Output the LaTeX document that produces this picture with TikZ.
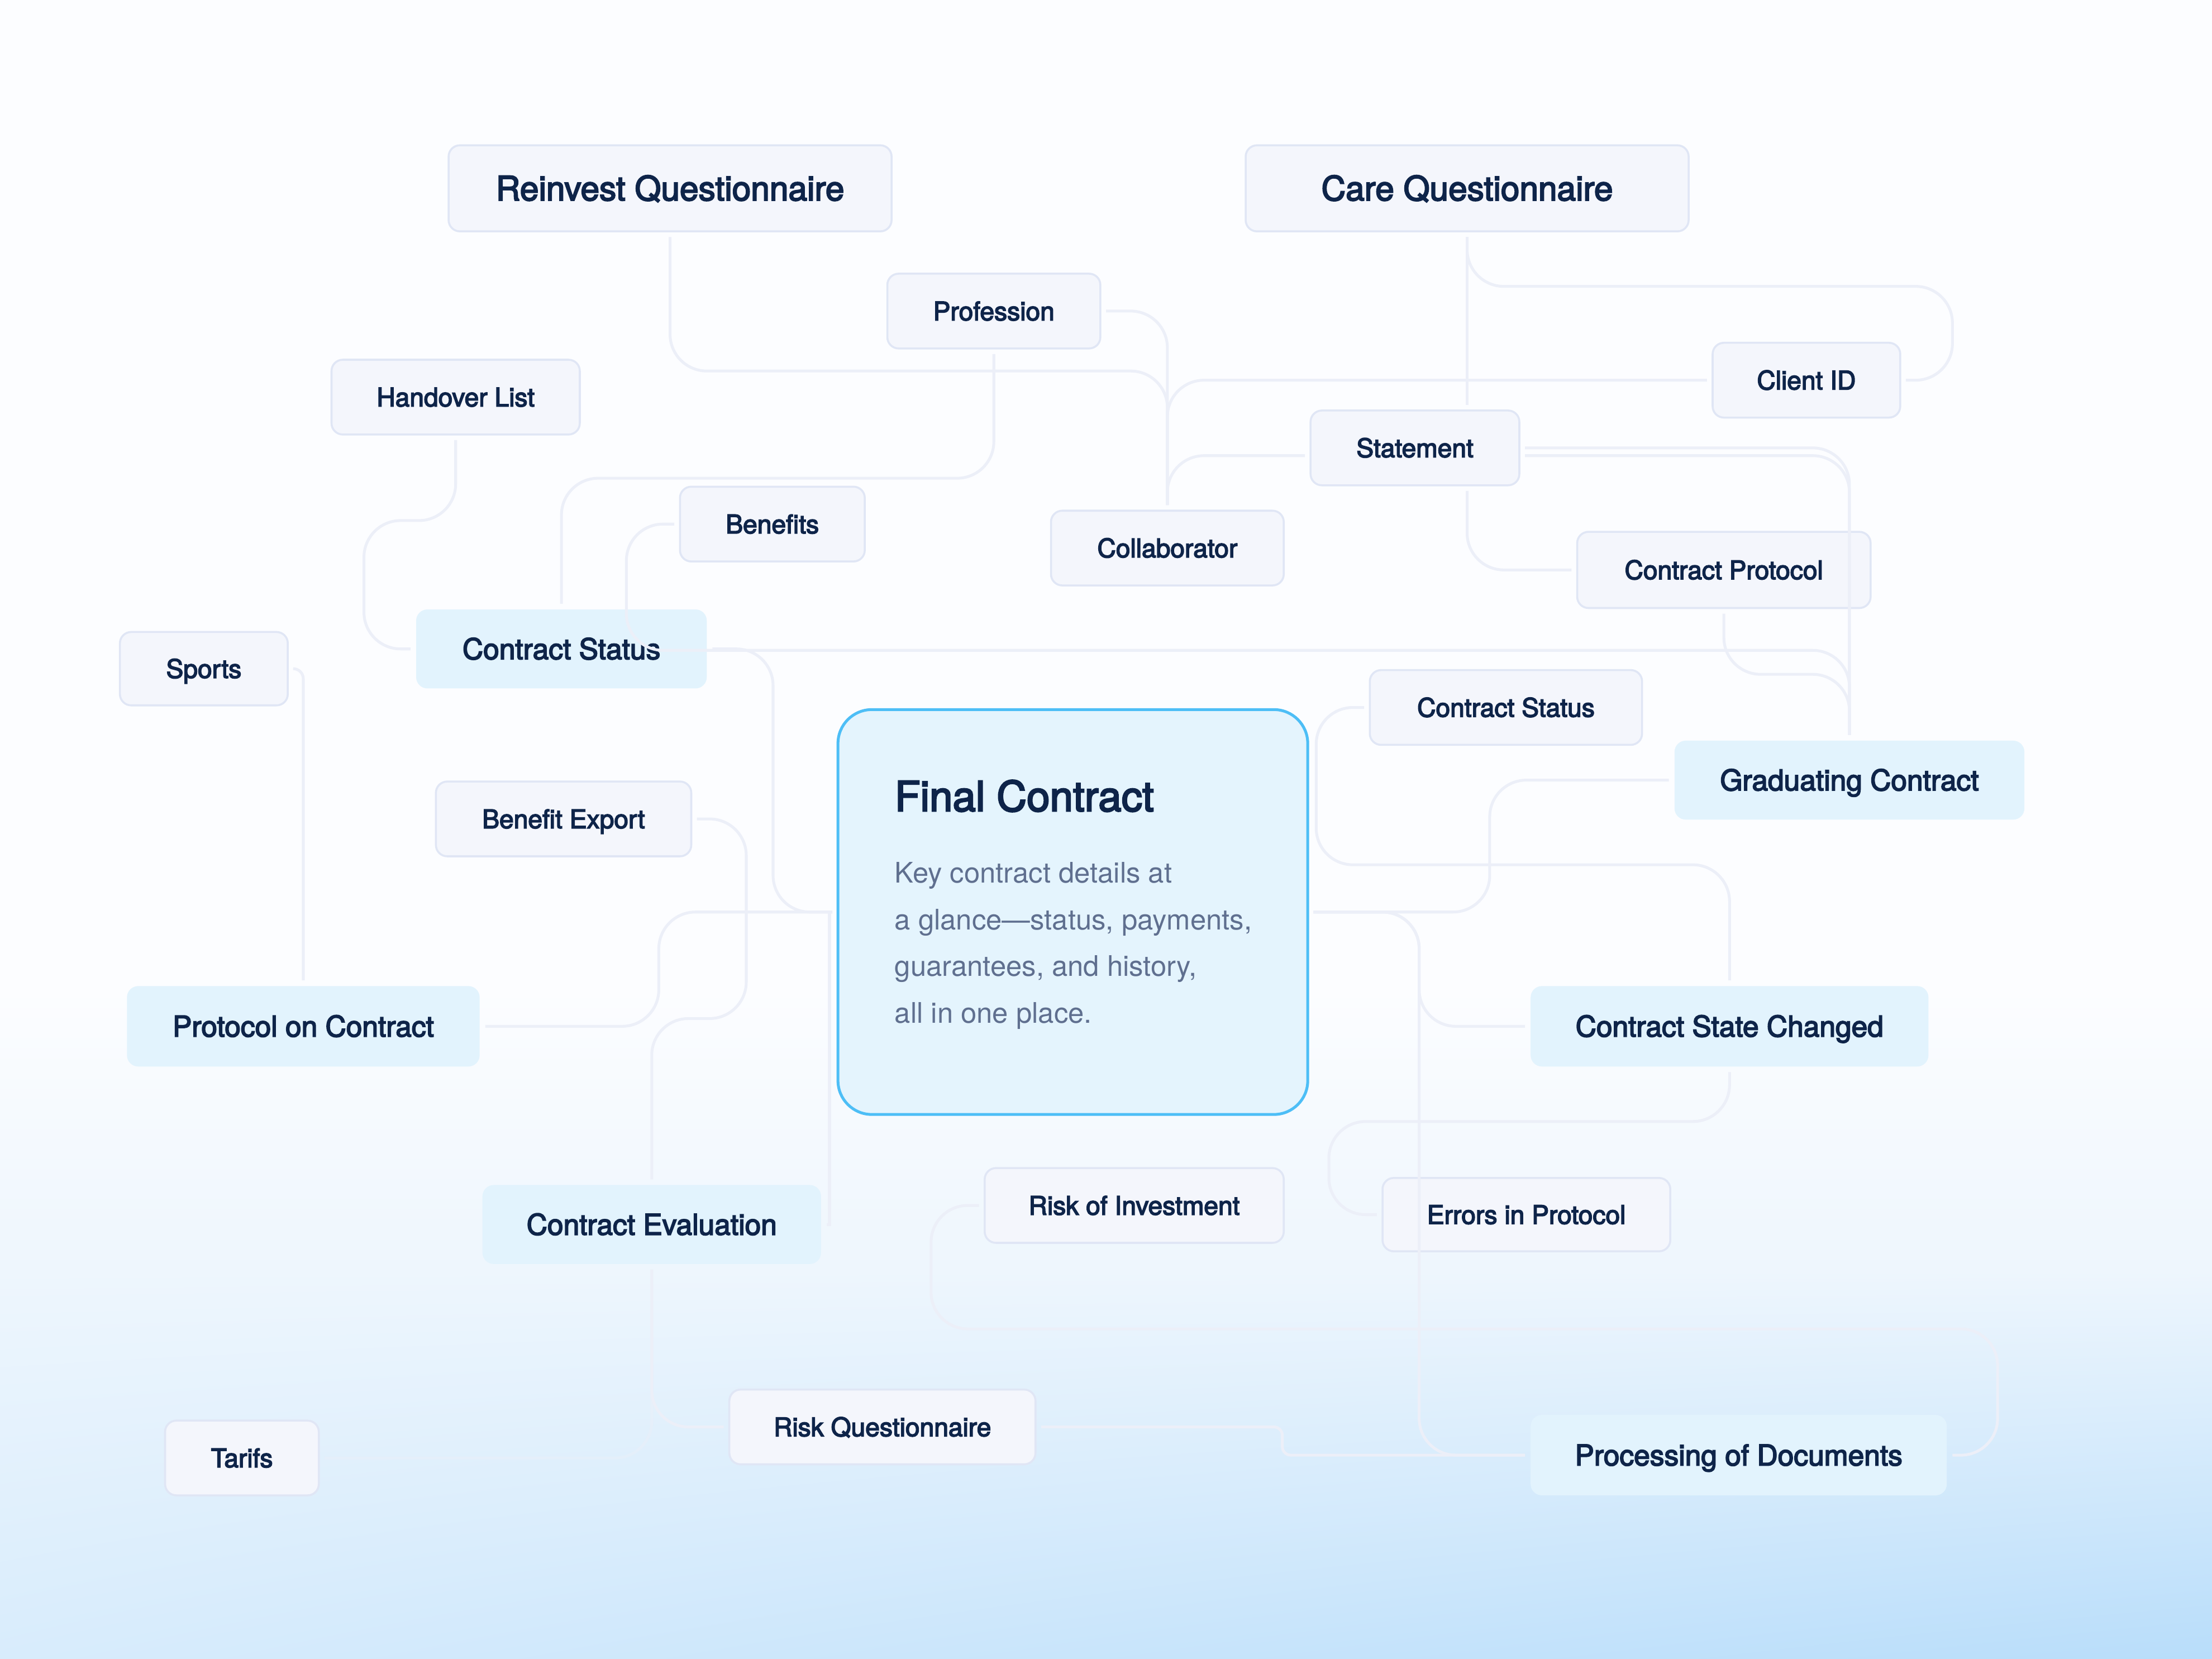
\documentclass[tikz,border=0pt]{standalone}
\usepackage{fontspec}
\setmainfont{TeX Gyre Heros}
\newfontfamily\lblfont{TeX Gyre Heros}[FakeBold=3.5]
\usetikzlibrary{shadings}
\definecolor{bgtop}{HTML}{FCFDFF}
\definecolor{bgmid}{HTML}{EEF6FD}
\definecolor{bgbl}{HTML}{D8ECFC}
\definecolor{bgbr}{HTML}{B8DDFA}
\definecolor{gfill}{HTML}{F4F6FC}
\definecolor{gline}{HTML}{E0E6F5}
\definecolor{bfill}{HTML}{E2F3FD}
\definecolor{ffill}{HTML}{E4F4FD}
\definecolor{fline}{HTML}{4DBEF6}
\definecolor{ink}{HTML}{0E2449}
\definecolor{bodyc}{HTML}{5F6F8F}
\definecolor{connc}{HTML}{ECEFF8}
\newcommand{\pxu}{0.025cm}
\begin{document}
\begin{tikzpicture}[x=0.025cm,y=-0.025cm,
  gbox/.style={draw=gline, fill=gfill, line width=0.035cm, rounded corners=0.2cm, inner sep=0pt, outer sep=0.1cm, text=ink, font=\lblfont\fontsize{13}{15}\selectfont, text height=9.4pt, text depth=0pt},
  bbox/.style={fill=bfill, rounded corners=0.2cm, inner sep=0pt, outer sep=0.1cm, text=ink, font=\lblfont\fontsize{14.5}{17}\selectfont, text height=10.4pt, text depth=0pt},
  big/.style={font=\lblfont\fontsize{17}{20}\selectfont, text height=12.2pt},
  fbox/.style={draw=fline, fill=ffill, line width=0.05cm, rounded corners=0.6cm, inner sep=0pt, outer sep=0.1cm},
  sz/.style 2 args={minimum width=#1*\pxu, minimum height=#2*\pxu},
  link/.style={draw=connc, line width=0.05cm, rounded corners=0.65cm},
]
\useasboundingbox (0,0) rectangle (1568,1176);
% background
\fill[bgtop] (0,0) rectangle (1568,1176);
\shade[top color=bgtop, bottom color=bgmid] (0,700) rectangle (1568,900);
\shade[upper left=bgmid, upper right=bgmid, lower left=bgbl, lower right=bgbr] (0,900) rectangle (1568,1176);

% nodes
\node[gbox,big,sz={314}{61}] (reinvest) at (475,133.5) {Reinvest Questionnaire};
\node[gbox,big,sz={314}{61}] (care) at (1040,133.5) {Care Questionnaire};
\node[gbox,sz={151}{53}] (prof) at (704.5,220.5) {Profession};
\node[gbox,sz={176}{53}] (handover) at (323,281.5) {Handover List};
\node[gbox,sz={133}{53}] (client) at (1280.5,269.5) {Client ID};
\node[gbox,sz={148}{53}] (stmt) at (1003,317.5) {Statement};
\node[gbox,sz={131}{53}] (benefits) at (547.5,371.5) {Benefits};
\node[gbox,sz={165}{53}] (collab) at (827.5,388.5) {Collaborator};
\node[gbox,sz={208}{54}] (cprot) at (1222,404) {Contract Protocol};
\node[bbox,sz={206}{56}] (cstatL) at (398,460) {Contract Status};
\node[gbox,sz={119}{52}] (sports) at (144.5,474) {Sports};
\node[gbox,sz={193}{53}] (cstatR) at (1067.5,501.5) {Contract Status};
\node[bbox,sz={248}{56}] (grad) at (1311,553) {Graduating Contract};
\node[fbox,sz={333}{287}] (final) at (760.5,646.5) {};
\node[gbox,sz={181}{53}] (bexport) at (399.5,580.5) {Benefit Export};
\node[bbox,sz={250}{57}] (protoc) at (215,727.5) {Protocol on Contract};
\node[bbox,sz={282}{57}] (csc) at (1226,727.5) {Contract State Changed};
\node[bbox,sz={240}{56}] (ceval) at (462,868) {Contract Evaluation};
\node[gbox,sz={212}{53}] (riskinv) at (804,854.5) {Risk of Investment};
\node[gbox,sz={204}{52}] (errors) at (1082,861) {Errors in Protocol};
\node[gbox,sz={217}{53}] (riskq) at (625.5,1011.5) {Risk Questionnaire};
\node[gbox,sz={109}{53}] (tarifs) at (171.5,1033.5) {Tarifs};
\node[bbox,sz={295}{57}] (procdoc) at (1232.5,1031.5) {Processing of Documents};

% final contract content
\node[anchor=base west, inner sep=0pt, text=ink, font=\lblfont\fontsize{21}{24}\selectfont] (ftitle) at (634,575) {Final Contract};
\begin{scope}[every node/.style={anchor=base west, inner sep=0pt, text=bodyc, font=\fontsize{14.3}{17}\selectfont}]
\node (fb1) at (634,626) {Key contract details at};
\node (fb2) at (634,659) {a glance—status, payments,};
\node (fb3) at (634,692) {guarantees, and history,};
\node (fb4) at (634,725) {all in one place.};
\end{scope}

% connectors
\draw[link] (reinvest.south) -- (475,263) -- (827.5,263) -- (collab.north);
\draw[link] (prof.east) -- (827.5,220.5) -- (collab.north);
\draw[link] (client.west) -- (827.5,269.5) -- (collab.north);
\draw[link] (stmt.west |- 0,323) -- (827.5,323) -- (collab.north);
\draw[link] (care.south) -- (stmt.north -| care.south);
\draw[link] (care.south) -- (1040,203) -- (1384,203) -- (1384,269.5) -- (client.east);
\draw[link] (stmt.south -| care.south) -- (1040,404) -- (cprot.west);
\draw[link] (stmt.east) -- (grad.north |- stmt.east) -- (grad.north);
\draw[link] (stmt.east |- 0,323) -- (grad.north |- 0,323) -- (grad.north);
\draw[link] (cprot.south) -- (1222,478) -- (1311,478) -- (grad.north);
\draw[link] (benefits.west) -- (444,371.5) -- (444,461) -- (1311,461) -- (grad.north);
\draw[link] (cstatL.east) -- (548,460) -- (548,646.5) -- (final.west);
\draw[link] (prof.south) -- (704.5,339) -- (398,339) -- (cstatL.north);
\draw[link] (handover.south) -- (323,369) -- (258,369) -- (258,460) -- (cstatL.west);
\draw[link, rounded corners=0.18cm] (sports.east) -- (215,474) -- (protoc.north);
\draw[link] (protoc.east) -- (467,727.5) -- (467,646.5) -- (final.west);
\draw[link] (bexport.east) -- (529,580.5) -- (529,722) -- (462,722) -- (ceval.north);
\draw[link, rounded corners=0] (final.west) -- (588,646.5) -- (588,868) -- (ceval.east);
\draw[link] (ceval.south) -- (462,1011.5) -- (riskq.west);
\draw[link, draw opacity=0.45] (ceval.south) -- (462,1033.5) -- (tarifs.east);
\draw[link, rounded corners=0.15cm] (riskq.east) -- (909,1011.5) -- (909,1031.5) -- (procdoc.west);
\draw[link] (final.east) -- (1006,646.5) -- (1006,1031.5) -- (procdoc.west);
\draw[link] (final.east) -- (1006,646.5) -- (1006,727.5) -- (csc.west);
\draw[link] (final.east) -- (1056,646.5) -- (1056,553) -- (grad.west);
\draw[link] (cstatR.west) -- (933,501.5) -- (933,613) -- (1226,613) -- (csc.north);
\draw[link] (csc.south) -- (1226,795) -- (942,795) -- (942,861) -- (errors.west);
\draw[link] (riskinv.west) -- (660,854.5) -- (660,942) -- (1416,942) -- (1416,1031.5) -- (procdoc.east);
\end{tikzpicture}
\end{document}
